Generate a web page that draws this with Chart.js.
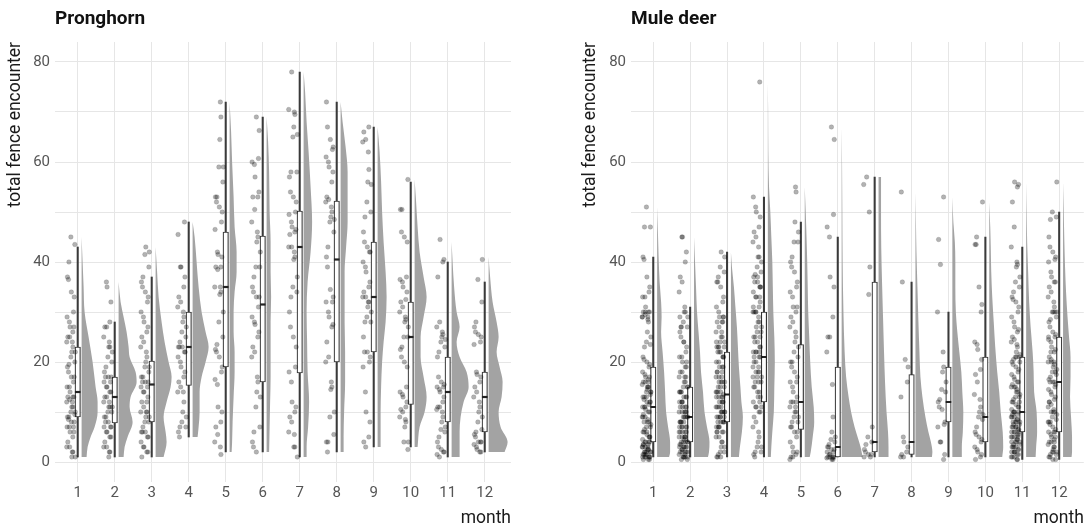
<!DOCTYPE html>
<html><head><meta charset="utf-8">
<script src="https://cdn.jsdelivr.net/npm/chart.js@4.4.1/dist/chart.umd.min.js"></script>
<style>
body{margin:0;background:#fff;width:1090px;height:529px;overflow:hidden;position:relative}
canvas{position:absolute;top:0}
#c1{left:0}#c2{left:545px}
.ttl{position:absolute;top:7px;font:700 19px/22px Roboto,"Liberation Sans",sans-serif;color:#111;z-index:2}
</style></head><body>
<canvas id="c1" width="545" height="529"></canvas>
<canvas id="c2" width="545" height="529"></canvas>
<div class="ttl" style="left:55px">Pronghorn</div>
<div class="ttl" style="left:631px">Mule deer</div>
<script>
// ---------- data ----------
const MONTHS = [1,2,3,4,5,6,7,8,9,10,11,12];
const Y_TICKS = [0,10,20,30,40,50,60,70,80];
const Y_LABELED = [0,20,40,60,80];

// Pronghorn: observed values per month
const PH_POINTS = [
 [45,43.5,40,37,36.5,34,33,30,29,28,27,27,26,25,25,24,24,23,22,22,21,20,19.5,19,18,17,17,16,15,15,14,13,13,13,12.5,12,12,11,11,10,10,9.5,9,9,8.5,8,8,7,7,7,6,6,5,4,3,3,2,2,1,1],
 [36,35,32,28,27,27,25,24,23,23,22,21,20,19,18,17,17,17,16,16,15,15,14,14,13,13,12,12,11,11,11,10,10,9,9,8,8,7,7,7,6,6,5,5,4,3,3,2,2,1],
 [43,42,41.5,39,37,36,35,34,33,32,30,29,28,27,26,25,24,23,22,21,20,19,19,18,17,17,16,16,16,15,15,14,14,13,12,12,11,10,10,10,9,9,8,8,7,6,6,6,5,5,4,3,3,2,2,1],
 [48,45.5,39,39,37,35,33,32,31,30,29,28,27,26,25,24,23,23,23,22,22,21,20,19,18,17,16,15,14,14,12,10,9,8,7,7,6,5],
 [72,69,64.5,59,59,56,53,53,52,51,50,48,46.5,42,41.5,41,39,39,38.5,35,35,34,33.5,30,28,25,23.5,22.5,22,21,19,18,16.5,15.5,11,10,8,7,5.5,4,3,1.5],
 [69,66.3,60.7,60,59.5,57,54,53,53,50.5,48,46,45,44,42,39,39,37,35,34,33,33,31,29,28,27.5,26,25,23,22,21,17,16,14,13,11,7,6,4,3,2],
 [78,70.5,70,69.5,67,65.5,65,58,58,57,54,53,52,50,49.5,48,47,46.5,46,45.5,43,43,42,41,40.5,37,35,34,33,30,27,25,23,19,18,16,12,11,10,9,8,6,5.5,3,3,1],
 [72,67,64.5,63,62.5,61,60,59,58,56,53,52.5,52,51,50,49,48.5,48,46,43,41,39,34.5,33,32,32,30,29,27.5,27,24,21,20,16,15,14.5,10,9,5.5,4,4,2],
 [67,66,64.5,64,62,58.5,56,55.5,52,50,49,46,44,43,42,42,40,39,38,36,35,34,33,33,32,32,31,30,29,28,28,25,22,22,21,20,19,14,10,8,5,4,3],
 [56.5,50.5,50.5,46,45,44,37,36.5,36,35,34,32.5,32,31,30,29,28.5,28,27,25,25,23,22.5,21,20,19,15,14,13.5,13,12,11,10.5,10,9,8.5,8,7,4,4,2.5],
 [44.5,40.5,40,37,28,27,26,25.5,25,24.5,24,23,22,21,17,16,15.5,15,15,14.5,14,13,12,11,11,10.5,10,9,8,7,6.5,6,5,4,3,2.5,2,2,1.5,1],
 [40.5,36.5,32,28,27,26,25.5,25,24,23.5,18,17.5,17,16,15,14,13,12,11,10,9,8,6.5,6,5.5,5,4,4,4,3.5,3,2.5,2,2]
];
const PH_LOW    = [1,1,1,5,2,2,1,2,3,3,1,2];
const PH_Q1     = [9,7.8,8,15.3,19,16,17.8,20,22,11.5,8,6];
const PH_MEDIAN = [14,13,15.5,23,35,31.5,43,40.5,33,25,14,13];
const PH_Q3     = [23,17,20.2,30,46,45.2,50.2,52.2,44,32,21,18];
const PH_HIGH   = [43,28,37,48,72,69,78,72,67,56,40,36];
// density profile per month: [value, density]
const PH_DENSITY = [
 [[1,5],[3,6],[5,9],[7,13],[10,16],[12,16],[15,14],[20,11],[25,7],[30,3],[35,2],[40,1],[45,0]],
 [[1,5],[3,6],[5,9],[8,14],[11,11],[13,12],[16,18],[18,17],[21,11],[23,10],[26,8],[29,5],[32,2],[36,0]],
 [[1,8],[4,11],[6,10],[9,8],[12,11],[15,15],[17,16],[20,13],[24,9],[28,6],[33,3],[38,1.5],[43,0]],
 [[5,5],[7,6],[10,7],[14,7],[17,9],[20,13],[23,16],[26,13],[30,9],[35,6],[40,4],[45,2],[48,0]],
 [[2,2],[4,2.5],[8,3],[13,4],[18,5],[22,5],[26,4],[30,4],[34,5],[38,7],[42,7],[47,5],[53,4],[60,2.5],[66,1.5],[72,0]],
 [[2,2.5],[7,3],[12,3.5],[17,4],[22,4],[28,4],[33,4.5],[38,4],[44,4],[50,3],[58,2.5],[64,1.5],[69,0]],
 [[1,3],[3,3],[7,4.5],[12,5.5],[18,4],[24,3.5],[30,3],[36,4],[42,7],[48,8.5],[55,7],[62,5],[68,3],[74,1.5],[78,0]],
 [[2,3],[5,3],[10,3.5],[16,4.5],[22,4.5],[28,4],[33,4],[38,4],[43,5.5],[48,7],[53,7],[58,7],[63,5],[68,2],[72,0]],
 [[3,3],[5,3],[10,3],[15,3.5],[20,4.5],[24,6],[28,8],[33,9],[38,8],[44,6],[50,4.5],[56,3.5],[62,2],[67,0]],
 [[3,3],[7,5],[10,10],[13,12],[17,9],[21,6],[25,6],[29,9],[33,12],[37,9],[42,5],[47,3],[52,1.5],[56.5,0]],
 [[1,8],[3,8],[6,8],[9,9],[12,12],[15,17],[18,15],[21,8],[24,5],[27,8],[30,5],[35,2.5],[40,1],[44,0]],
 [[2,16],[4,19],[7,12],[10,10],[13,13],[16,14],[19,11],[22,8],[25,10],[28,8],[32,4],[37,1.5],[41,0]]
];

// Mule deer
const MD_POINTS = [
 [51,47,47,41,40.5,37,35,34,33,33,31,30,30,30,29.5,29,29,28,26,25,24,23.5,23,21,20.5,20,19.5,19,18,17.5,17,17,16.5,16,16,15.5,15,15,14.5,14,14,13.5,13,13,12.5,12,12,11.5,11,11,10.5,10,10,9.5,9,9,8.5,8,8,7.5,7,7,6.5,6,6,5.5,5,5,4.5,4,4,4,3.5,3.5,3,3,3,2.5,2.5,2,2,2,2,1.5,1.5,1.5,1,1,1,1,1,0.5,0.5,0.5,30,29,28.5,16,15,14,13,12,11,9,8,6,5,4,3,2,1.5,1,2.5,3.5],
 [45,45,42,40,37,36,34,31,30,30,29,28,27,27,26,25,24,23,22,21,21,20,19,19,18,18,17,17,16,16,15,15,15,14,14,14,13,13,13,12,12,12,11,11,11,10,10,10,10,9,9,9,9,8,8,8,8,7,7,7,7,6,6,6,6,5,5,5,5,4.5,4,4,4,4,3.5,3.5,3,3,3,3,2.5,2.5,2,2,2,2,1.5,1.5,1,1,1,1,0.5,0.5,29,27,24,20,17,14,12,11,10,9,8,7,6,5,4,3,2,1],
 [42,41,39,38,37,36,36,35,33,32,31,30,29,29,28,28,27,26,26,25,25,24,24,23,23,23,22,22,21,21,20,20,19,19,18,18,17,17,17,16,16,16,15,15,15,14,14,14,13.5,13,13,13,12,12,12,11,11,11,10,10,10,10,9,9,9,9,8,8,8,8,7,7,7,6,6,6,5,5,4,4,3,3,2,2,1.5,1,1,1,29,28,24,23,22,21,19,18,16,14,13,12,11,10,9,8,7,6],
 [76,53,51,50,49,47,46,45,44,43,41,41,40,39,38,37.5,37,36,36,35,35,34,33,33,32,31,30,30,30,29,28,28,27,26,26,25,25,24,24,23,23,22,22,22,21,21,20,20,19,19,18,18,17,17,16,16,15,15,14,13,12,12,11,11,10,10,9,8,7,6,5,4,3,3,2,2,1.5,1,37,35,33,31,30,27,25,22,21,18,17,16,14,13,11],
 [55,54,48,46,44,44,41,40,39,38,36,35,34,33,31,31,30,29,28,27,26,25,24,23,22,21,20,20,19,18,17,16,16,15,14,13,12,12,12,11,11,10,10,9,9,8,8,7,7,6,6,5,4,3,2,2,1.5,1,1,0.5],
 [67,64.5,49.5,47,45,37,35,29,25,25,22,15.5,9,6,5,4.5,4,3.5,3,3,2.5,2.5,2,2,1.5,1.5,1,1,1,1,0.8,0.8,0.5,0.5],
 [57,55.5,50,39,33.5,7,5,4,3.5,2.5,2,1.5,1.5,1,1],
 [54,36,20.5,19,16,13,5,4,3,2,1.5,1,1],
 [53,44.5,39.5,30,22,19,18,16,14.5,14,12.5,12,11,10.5,8,7.5,7,4,4,1.5,0.5],
 [52,45,43.5,43.5,35,31.5,30,24,23.5,22.5,20.5,18.5,17.5,16,13.5,12.5,11,10,9.5,9,8.5,7,6,5.5,5,4.5,4,3,2.5,2,1.5,1,0.5],
 [56,55.5,55,52,47,43,40,39.5,39,37,36,35,34,33,32.5,32,31,30,29,28,27,26.5,26,25,24.5,24,23.5,23,22,21.5,21,21,20.5,20,19.5,19,18.5,18,17.5,17,16.5,16,16,15.5,15,15,14.5,14,14,13.5,13,13,12.5,12,12,11.5,11,11,10.5,10,10,10,9.5,9.5,9,9,8.5,8.5,8,8,8,7.5,7.5,7,7,7,6.5,6.5,6,6,6,5.5,5.5,5,5,5,4.5,4.5,4,4,4,3.5,3.5,3,3,3,2.5,2.5,2,2,2,1.5,1.5,1,1,1,0.5,0.5,21,20,15,12,10,9,8,7,6,5,4,3,2],
 [56,50,49,48.5,45,43,42,41,40.5,40,38,37,36,36,35,34,33,32,31,30,30,30,29,28.5,28,27,26,25.5,25,24.5,24,23,22.5,22,21,20.5,20,20,19.5,19,18.5,18,17.5,17,16.5,16,16,15.5,15,14.5,14,13.5,13,12.5,12,11.5,11,10.5,10,10,9.5,9,8.5,8,8,7.5,7,6.5,6,6,5.5,5,5,4.5,4,4,3.5,3,3,2.5,2,2,1.5,1.5,1,1,0.5,0.5,30,25,22,20,18,16,12,10,8,6,4,2]
];
const MD_LOW    = [1,1,1,1,1,1,1,1,1,1,0.5,0.5];
const MD_Q1     = [4,4,8,12,6.5,1,2,1.5,8,4,6,6];
const MD_MEDIAN = [11,9,13.5,21,12,3,4,4,12,9,10,16];
const MD_Q3     = [19,15,22,30,23.5,19,36,17.5,19,21,21,25];
const MD_HIGH   = [41,31,42,53,48,45,57,36,30,45,43,50];
const MD_DENSITY = [
 [[1,12],[2,13],[4,13],[7,11],[10,9],[14,8],[18,7],[22,5.5],[26,4],[29,4.5],[32,4],[36,2.5],[41,1.5],[46,0.8],[51,0]],
 [[1,14],[2,15],[4,15.5],[7,13],[10,10.5],[14,9],[18,7],[22,6],[26,4.5],[30,3],[35,2],[40,1],[45,0]],
 [[1,8],[3,9],[6,11],[9,12],[12,10.5],[15,9.5],[19,8],[23,7],[27,6],[31,4.5],[35,3],[39,1],[42,0]],
 [[1,3],[3,3.5],[6,4.5],[10,6],[15,6.5],[20,7],[25,6.5],[30,5.5],[35,5],[40,4.5],[45,3.5],[50,2.5],[55,1.2],[62,0.5],[70,0.3],[76,0]],
 [[1,5],[2,6],[5,8],[8,9.5],[11,9],[15,7],[20,5.5],[25,4.5],[30,3.5],[35,3],[40,2.5],[45,1.8],[50,1],[55,0]],
 [[1,21],[3,19],[5,16],[7,13],[10,9.5],[13,7],[17,4.5],[22,3],[30,1.8],[40,1],[50,0.7],[60,0.4],[67,0]],
 [[1,10],[3,10],[6,9.5],[10,8],[16,6.5],[22,5.5],[29,4.5],[36,3.5],[43,2.7],[50,2.5],[57,2.5]],
 [[1,16.5],[2,17],[4,15.5],[6,13],[9,10],[13,7],[17,5],[22,4],[28,3],[35,2],[42,1],[48,0.5],[54,0]],
 [[1,9.5],[3,9.5],[6,10.5],[10,11],[14,10],[18,9],[22,7],[26,5],[30,3.5],[35,3],[40,3],[44,2.5],[48,1],[53,0]],
 [[1,13],[3,14],[6,13.5],[10,11.5],[14,10],[18,8],[23,6],[28,4.5],[33,3],[38,2],[43,1.5],[47,1],[52,0]],
 [[1,9.5],[3,10],[6,11],[10,10.5],[14,8],[18,7.5],[22,6.5],[27,4.5],[32,3],[38,2],[44,1],[50,0.5],[56,0]],
 [[1,8.5],[2,9],[5,9],[9,8],[13,7],[17,7.5],[21,7.5],[25,6],[29,4.5],[34,3],[39,2],[44,1.3],[50,0.7],[56,0]]
];

// ---------- presentation ----------
const JITTER = [0.50,0.13,0.86,0.34,0.71,0.05,0.60,0.93,0.24,0.78,0.41,0.17,0.66,0.98,0.29,0.55,0.09,0.83,0.37,0.72];
const JIT_CENTER = -0.185, JIT_SPREAD = 0.25;
const VIOLIN_GAP = 0.105, VIOLIN_SCALE = 1/37;
const VIOLIN_COLOR = 'rgb(163,163,163)';

function fontOK(name){
  const c = document.createElement('canvas').getContext('2d');
  const s = 'total fence encounter 0123456789';
  c.font = '40px monospace'; const w1 = c.measureText(s).width;
  c.font = '40px "' + name + '", monospace'; const w2 = c.measureText(s).width;
  return Math.abs(w1 - w2) > 1;
}
const NARROW = fontOK('Liberation Sans Narrow');
const AX_FAMILY = NARROW ? '"Liberation Sans Narrow"' : 'Roboto';
const TICK_SIZE = NARROW ? 17 : 15;
const TITLE_SIZE = NARROW ? 21 : 17.5;

function buildDatasets(points, low, q1, med, q3, high, dens){
  const ds = [];
  dens.forEach((prof, i) => {
    const base = MONTHS[i] + VIOLIN_GAP;
    ds.push({type:'line', indexAxis:'y',
      data: prof.map(p => ({x: base + p[1]*VIOLIN_SCALE, y: p[0]})),
      fill: {value: base}, backgroundColor: VIOLIN_COLOR,
      borderWidth: 0, borderColor: 'rgba(0,0,0,0)', pointRadius: 0,
      cubicInterpolationMode: 'monotone', order: 5});
  });
  ds.push({type:'bar', grouped:false, order:4,
    data: MONTHS.map((m,i) => ({x:m, y:[low[i], high[i]]})),
    barThickness: 1.4, backgroundColor:'#3a3a3a', borderWidth:0});
  ds.push({type:'bar', grouped:false, order:3,
    data: MONTHS.map((m,i) => ({x:m, y:[q1[i], q3[i]]})),
    barThickness: 5.5, backgroundColor:'#ffffff', borderColor:'#333333', borderWidth:1.2, borderSkipped:false});
  ds.push({type:'scatter', order:2,
    data: MONTHS.map((m,i) => ({x:m, y:med[i]})),
    pointStyle:'line', pointRadius:2.8, borderWidth:2.2, borderColor:'#222222'});
  const pts = [];
  points.forEach((arr, i) => arr.forEach((v, j) => {
    const f = JITTER[(j*7 + i*3) % JITTER.length];
    pts.push({x: MONTHS[i] + JIT_CENTER + JIT_SPREAD*(f - 0.5), y: v});
  }));
  ds.push({type:'scatter', order:1, data: pts, pointRadius:2.3,
    backgroundColor:'rgba(0,0,0,0.3)', borderColor:'rgba(0,0,0,0.22)', borderWidth:0.6});
  return ds;
}

function makeChart(id, datasets, xMin, xMax, padLeft, padRight, yAxisW){
  return new Chart(document.getElementById(id), {
    type: 'scatter',
    data: {datasets},
    options: {
      responsive:false, animation:false, devicePixelRatio:1,
      layout:{padding:{top:42, left:padLeft, right:padRight, bottom:0}},
      plugins:{legend:{display:false}, tooltip:{enabled:false}, title:{display:false}},
      scales:{
        x:{type:'linear', min:xMin, max:xMax, offset:false,
          grid:{color:'#e6e6e6', lineWidth:1, drawTicks:false, offset:false},
          border:{display:false},
          afterBuildTicks: s => { s.ticks = MONTHS.map(v => ({value:v})); },
          afterFit: s => { s.height = 47; },
          ticks:{autoSkip:false, maxRotation:0, padding:2, color:'#555555',
            font:{family:AX_FAMILY, size:TICK_SIZE}, callback: v => String(v)},
          title:{display:true, text:'month', align:'end', color:'#1a1a1a',
            padding:{top:0,bottom:0}, font:{family:AX_FAMILY, size:TITLE_SIZE}}
        },
        y:{type:'linear', min:-4, max:84,
          grid:{color:'#e6e6e6', lineWidth:1, drawTicks:false},
          border:{display:false},
          afterBuildTicks: s => { s.ticks = Y_TICKS.map(v => ({value:v})); },
          afterFit: s => { s.width = yAxisW; },
          ticks:{padding:5, color:'#555555', font:{family:AX_FAMILY, size:TICK_SIZE},
            callback: v => Y_LABELED.includes(v) ? String(v) : ''},
          title:{display:true, text:'total fence encounter', align:'end', color:'#1a1a1a',
            padding:{top:5,bottom:0}, font:{family:AX_FAMILY, size:TITLE_SIZE}}
        }
      }
    }
  });
}

makeChart('c1', buildDatasets(PH_POINTS, PH_LOW, PH_Q1, PH_MEDIAN, PH_Q3, PH_HIGH, PH_DENSITY),
  0.386, 12.71, 0, 34, 55);
makeChart('c2', buildDatasets(MD_POINTS, MD_LOW, MD_Q1, MD_MEDIAN, MD_Q3, MD_HIGH, MD_DENSITY),
  0.397, 12.667, 30, 5, 56);
</script>
</body></html>
